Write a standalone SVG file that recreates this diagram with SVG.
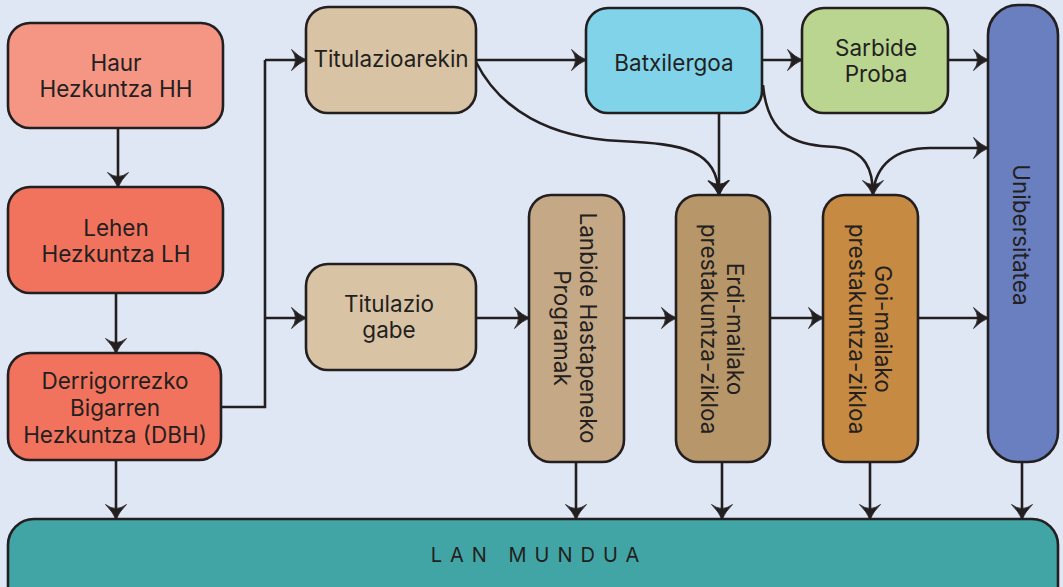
<svg xmlns="http://www.w3.org/2000/svg" width="1063" height="587" viewBox="0 0 1063 587">
<defs>
<style>
.box{stroke:#231f20;stroke-width:2.6}
.t{font-family:Inter,"Liberation Sans",sans-serif;font-size:22.5px;fill:#231f20;text-anchor:middle;dominant-baseline:central}
.c{fill:none;stroke:#231f20;stroke-width:2.6;marker-end:url(#ah)}
.cn{fill:none;stroke:#231f20;stroke-width:2.6}
</style>
<marker id="ah" markerUnits="userSpaceOnUse" markerWidth="16" markerHeight="24" viewBox="0 0 16 24" refX="15" refY="12" orient="auto">
<path d="M15.5,12 Q8,9 0.5,1.5 Q4.5,7 4.5,12 Q4.5,17 0.5,22.5 Q8,15 15.5,12 Z" fill="#231f20" stroke="#231f20" stroke-width="0.8" stroke-linejoin="round"/>
</marker>
</defs>
<rect width="1063" height="587" fill="#e0e7f4"/>

<g id="connectors">
<line class="c" x1="118" y1="128" x2="118" y2="187"/>
<line class="c" x1="116" y1="293" x2="116" y2="353"/>
<line class="c" x1="116" y1="460" x2="116" y2="519"/>
<path class="cn" d="M221,407 H265 V60"/>
<path class="c" d="M265,60 H306"/>
<path class="c" d="M265,318 H306"/>
<path class="c" d="M476,60 H586"/>
<path class="c" d="M762,60 H802"/>
<path class="c" d="M948,60 H988"/>
<path class="c" d="M476,318 H529"/>
<path class="c" d="M624,318 H676"/>
<path class="c" d="M770,318 H823"/>
<path class="c" d="M918,318 H988"/>
<path class="c" d="M476,62 C500,110 550,138 620,141 C685,144 717,150 719,195"/>
<path class="c" d="M719,112 V195"/>
<path class="c" d="M763,85 C768,140 800,145 835,147 C866,150 873,170 873,195"/>
<path class="c" d="M873,193 C876,165 895,148 930,148 L988,148"/>
<line class="c" x1="576" y1="462" x2="576" y2="519"/>
<line class="c" x1="722" y1="462" x2="722" y2="519"/>
<line class="c" x1="870" y1="462" x2="870" y2="519"/>
<line class="c" x1="1022" y1="462" x2="1022" y2="519"/>
</g>

<g id="haur">
<rect class="box" x="8" y="23" width="215" height="105" rx="22" fill="#f59684"/>
<text class="t" x="116" y="62">Haur</text>
<text class="t" x="116" y="88">Hezkuntza HH</text>
</g>
<g id="lehen">
<rect class="box" x="8" y="187" width="215" height="106" rx="22" fill="#f2735d"/>
<text class="t" x="116" y="227">Lehen</text>
<text class="t" x="116" y="253">Hezkuntza LH</text>
</g>
<g id="dbh">
<rect class="box" x="8" y="353" width="213" height="107" rx="22" fill="#f2735d"/>
<text class="t" x="115" y="380">Derrigorrezko</text>
<text class="t" x="115" y="407">Bigarren</text>
<text class="t" x="115" y="434">Hezkuntza (DBH)</text>
</g>
<g id="titulazioarekin">
<rect class="box" x="306" y="7" width="170" height="106" rx="22" fill="#d9c3a5"/>
<text class="t" x="391" y="58">Titulazioarekin</text>
</g>
<g id="titulazio-gabe">
<rect class="box" x="306" y="264" width="170" height="106" rx="22" fill="#d9c3a5"/>
<text class="t" x="389" y="303">Titulazio</text>
<text class="t" x="389" y="329">gabe</text>
</g>
<g id="batxilergoa">
<rect class="box" x="586" y="8" width="176" height="105" rx="22" fill="#80d3e9"/>
<text class="t" x="674" y="62">Batxilergoa</text>
</g>
<g id="sarbide">
<rect class="box" x="802" y="8" width="146" height="105" rx="22" fill="#b9d58f"/>
<text class="t" x="876" y="47">Sarbide</text>
<text class="t" x="876" y="73">Proba</text>
</g>
<g id="unibertsitatea">
<rect class="box" x="988" y="5" width="70" height="457" rx="30" fill="#6a7fc0"/>
<text class="t" transform="translate(1021,235) rotate(90)" x="0" y="0">Unibersitatea</text>
</g>
<g id="lanbide">
<rect class="box" x="529" y="195" width="95" height="267" rx="22" fill="#c5a886"/>
<g transform="translate(575,328) rotate(90)">
<text class="t" x="0" y="-13">Lanbide Hastapeneko</text>
<text class="t" x="0" y="13">Programak</text>
</g>
</g>
<g id="erdi">
<rect class="box" x="676" y="195" width="94" height="267" rx="22" fill="#b7966a"/>
<g transform="translate(722,329) rotate(90)">
<text class="t" x="0" y="-13">Erdi-mailako</text>
<text class="t" x="0" y="13">prestakuntza-zikloa</text>
</g>
</g>
<g id="goi">
<rect class="box" x="823" y="195" width="95" height="267" rx="22" fill="#c78a43"/>
<g transform="translate(870,329) rotate(90)">
<text class="t" x="0" y="-13">Goi-mailako</text>
<text class="t" x="0" y="13">prestakuntza-zikloa</text>
</g>
</g>
<g id="lan-mundua">
<rect class="box" x="8" y="519" width="1050" height="110" rx="26" fill="#41a5a5"/>
<text class="t" x="539" y="555" style="font-size:20px;letter-spacing:8px">LAN MUNDUA</text>
</g>
</svg>
